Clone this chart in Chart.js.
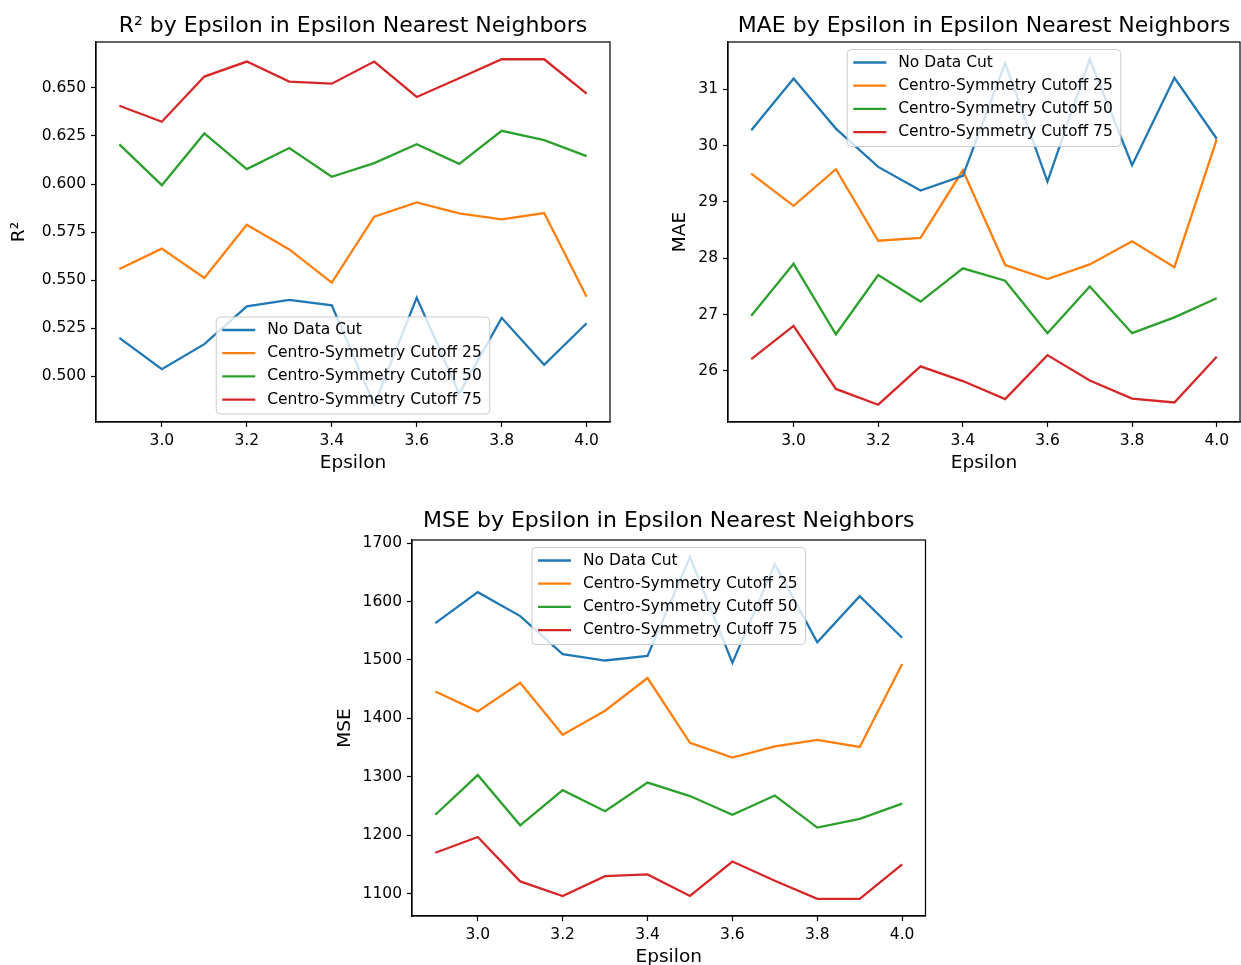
<!DOCTYPE html>
<html>
<head>
<meta charset="utf-8">
<title>Epsilon Nearest Neighbors metrics</title>
<script src="https://cdn.jsdelivr.net/npm/chart.js@4.4.0/dist/chart.umd.min.js"></script>
<style>
  html, body { margin: 0; padding: 0; background: #fff; }
  body { width: 1241px; height: 965px; position: relative; overflow: hidden; }
  canvas { position: absolute; }
</style>
</head>
<body>
<canvas id="r2Chart" width="620" height="480" style="left:0;top:0"></canvas>
<canvas id="maeChart" width="621" height="480" style="left:620px;top:0"></canvas>
<canvas id="mseChart" width="620" height="480" style="left:330px;top:490px"></canvas>
<script>
// Epsilon values swept in the nearest neighbour runs
const epsilonValues = [2.9, 3.0, 3.1, 3.2, 3.3, 3.4, 3.5, 3.6, 3.7, 3.8, 3.9, 4.0];
const epsilonTicks = [3.0, 3.2, 3.4, 3.6, 3.8, 4.0];

const seriesNames = [
    'No Data Cut',
    'Centro-Symmetry Cutoff 25',
    'Centro-Symmetry Cutoff 50',
    'Centro-Symmetry Cutoff 75'
];

// R^2
const r2NoCut = [0.5200, 0.5037, 0.5167, 0.5364, 0.5397, 0.5369, 0.4852, 0.5409, 0.4910, 0.5304, 0.5060, 0.5276];
const r2Cut25 = [0.5558, 0.5664, 0.5511, 0.5788, 0.5660, 0.5487, 0.5830, 0.5904, 0.5847, 0.5816, 0.5849, 0.5414];
const r2Cut50 = [0.6206, 0.5994, 0.6263, 0.6078, 0.6187, 0.6038, 0.6109, 0.6207, 0.6105, 0.6277, 0.6228, 0.6145];
const r2Cut75 = [0.6407, 0.6324, 0.6559, 0.6637, 0.6533, 0.6522, 0.6637, 0.6453, 0.6550, 0.6649, 0.6649, 0.6470];
const r2Ticks = [0.500, 0.525, 0.550, 0.575, 0.600, 0.625, 0.650];

// MAE
const maeNoCut = [30.27, 31.19, 30.30, 29.62, 29.20, 29.46, 31.46, 29.36, 31.53, 29.65, 31.20, 30.12];
const maeCut25 = [29.50, 28.93, 29.58, 28.31, 28.36, 29.56, 27.88, 27.63, 27.89, 28.30, 27.84, 30.11];
const maeCut50 = [26.98, 27.90, 26.65, 27.70, 27.23, 27.82, 27.60, 26.67, 27.50, 26.67, 26.95, 27.29];
const maeCut75 = [26.21, 26.80, 25.68, 25.40, 26.08, 25.82, 25.50, 26.28, 25.83, 25.51, 25.44, 26.25];
const maeTicks = [26, 27, 28, 29, 30, 31];

// MSE
const mseNoCut = [1563, 1616, 1575, 1510, 1499, 1507, 1676, 1495, 1664, 1530, 1609, 1538];
const mseCut25 = [1446, 1412, 1461, 1372, 1413, 1469, 1358, 1333, 1352, 1363, 1351, 1493];
const mseCut50 = [1235, 1303, 1217, 1277, 1241, 1290, 1267, 1235, 1268, 1213, 1228, 1254];
const mseCut75 = [1170, 1197, 1121, 1096, 1130, 1133, 1096, 1155, 1122, 1091, 1091, 1150];
const mseTicks = [1100, 1200, 1300, 1400, 1500, 1600, 1700];

const seriesColors = ['#1f77b4', '#ff7f0e', '#2ca02c', '#d62728'];
const FONT = '"DejaVu Sans", sans-serif';

// Box around the axes plus a framed legend drawn on top of the lines
const axesFrame = {
    id: 'axesFrame',
    afterDatasetsDraw(chart, args, opts) {
        const ctx = chart.ctx;
        const a = chart.chartArea;
        ctx.save();
        ctx.strokeStyle = '#000';
        ctx.lineWidth = 1.2;
        ctx.strokeRect(a.left, a.top, a.right - a.left, a.bottom - a.top);

        const fontSize = 15.5;
        ctx.font = fontSize + 'px ' + FONT;
        const labels = chart.data.datasets.map(d => d.label);
        const textW = Math.max(...labels.map(l => ctx.measureText(l).width));
        const boxW = 51 + textW + 8;
        const boxH = 97;
        const x = (a.left + a.right) / 2 - boxW / 2;
        const y = opts.loc === 'lower' ? a.bottom - 8 - boxH : a.top + 7.5;

        ctx.beginPath();
        ctx.roundRect(x, y, boxW, boxH, 4);
        ctx.fillStyle = 'rgba(255,255,255,0.8)';
        ctx.fill();
        ctx.strokeStyle = '#cccccc';
        ctx.lineWidth = 1;
        ctx.stroke();

        ctx.textBaseline = 'middle';
        ctx.textAlign = 'left';
        chart.data.datasets.forEach((ds, i) => {
            const cy = y + 13 + i * 23.2;
            ctx.beginPath();
            ctx.moveTo(x + 6, cy);
            ctx.lineTo(x + 39, cy);
            ctx.strokeStyle = ds.borderColor;
            ctx.lineWidth = 2.3;
            ctx.stroke();
            ctx.fillStyle = '#000';
            ctx.fillText(ds.label, x + 51, cy);
        });
        ctx.restore();
    }
};

function buildSeries(values) {
    return values.map((v, i) => ({ x: epsilonValues[i], y: v }));
}

function paddedRange(seriesList) {
    const all = seriesList.flat();
    const lo = Math.min(...all);
    const hi = Math.max(...all);
    const pad = (hi - lo) * 0.05;
    return { min: lo - pad, max: hi + pad };
}

function makeChart(canvasId, cfg) {
    const range = paddedRange(cfg.series);
    const xSpan = epsilonValues[epsilonValues.length - 1] - epsilonValues[0];
    return new Chart(document.getElementById(canvasId), {
        type: 'line',
        data: {
            datasets: cfg.series.map((vals, i) => ({
                label: seriesNames[i],
                data: buildSeries(vals),
                borderColor: seriesColors[i],
                backgroundColor: seriesColors[i],
                borderWidth: 2.3,
                pointRadius: 0,
                tension: 0,
                fill: false
            }))
        },
        options: {
            responsive: false,
            animation: false,
            devicePixelRatio: 1,
            layout: { padding: { left: 0, right: cfg.padRight, top: 0, bottom: 0 } },
            plugins: {
                legend: { display: false },
                tooltip: { enabled: false },
                title: {
                    display: true,
                    fullSize: false,
                    text: cfg.title,
                    color: '#000',
                    font: { family: FONT, size: 22, weight: 'normal', lineHeight: 1.2 },
                    padding: cfg.titlePad
                },
                axesFrame: { loc: cfg.legendLoc }
            },
            scales: {
                x: {
                    type: 'linear',
                    min: epsilonValues[0] - xSpan * 0.05,
                    max: epsilonValues[epsilonValues.length - 1] + xSpan * 0.05,
                    afterBuildTicks: scale => { scale.ticks = epsilonTicks.map(v => ({ value: v })); },
                    afterFit: scale => { scale.height = cfg.xHeight; },
                    grid: { drawOnChartArea: false, drawTicks: true, tickLength: 5, tickColor: '#000', tickWidth: 1.2 },
                    border: { display: true, color: '#000', width: 1.2 },
                    ticks: {
                        autoSkip: false,
                        maxRotation: 0,
                        padding: 5,
                        color: '#000',
                        font: { family: FONT, size: 15.5 },
                        callback: v => v.toFixed(1)
                    },
                    title: {
                        display: true,
                        text: 'Epsilon',
                        color: '#000',
                        font: { family: FONT, size: 18.5, lineHeight: 1 },
                        padding: { top: 0, bottom: cfg.xTitlePad }
                    }
                },
                y: {
                    type: 'linear',
                    min: range.min,
                    max: range.max,
                    afterBuildTicks: scale => { scale.ticks = cfg.ticks.map(v => ({ value: v })); },
                    afterFit: scale => { scale.width = cfg.yWidth; },
                    grid: { drawOnChartArea: false, drawTicks: true, tickLength: 5, tickColor: '#000', tickWidth: 1.2 },
                    border: { display: true, color: '#000', width: 1.2 },
                    ticks: {
                        autoSkip: false,
                        padding: 5,
                        color: '#000',
                        font: { family: FONT, size: 15.5 },
                        callback: cfg.tickFormat
                    },
                    title: {
                        display: true,
                        text: cfg.yLabel,
                        color: '#000',
                        font: { family: FONT, size: 18.5, lineHeight: 1 },
                        padding: { top: cfg.yTitlePad, bottom: 0 }
                    }
                }
            }
        },
        plugins: [axesFrame]
    });
}

document.addEventListener('DOMContentLoaded', function() {
    makeChart('r2Chart', {
        title: 'R\u00b2 by Epsilon in Epsilon Nearest Neighbors',
        yLabel: 'R\u00b2',
        series: [r2NoCut, r2Cut25, r2Cut50, r2Cut75],
        ticks: r2Ticks,
        tickFormat: v => v.toFixed(3),
        legendLoc: 'lower',
        padRight: 10,
        yWidth: 96,
        xHeight: 58,
        titlePad: { top: 13.3, bottom: 2.3 },
        xTitlePad: 8,
        yTitlePad: 9.5
    });

    makeChart('maeChart', {
        title: 'MAE by Epsilon in Epsilon Nearest Neighbors',
        yLabel: 'MAE',
        series: [maeNoCut, maeCut25, maeCut50, maeCut75],
        ticks: maeTicks,
        tickFormat: v => String(v),
        legendLoc: 'upper',
        padRight: 1,
        yWidth: 108,
        xHeight: 58,
        titlePad: { top: 13.3, bottom: 2.3 },
        xTitlePad: 8,
        yTitlePad: 51
    });

    makeChart('mseChart', {
        title: 'MSE by Epsilon in Epsilon Nearest Neighbors',
        yLabel: 'MSE',
        series: [mseNoCut, mseCut25, mseCut50, mseCut75],
        ticks: mseTicks,
        tickFormat: v => String(v),
        legendLoc: 'upper',
        padRight: 24.5,
        yWidth: 82,
        xHeight: 54,
        titlePad: { top: 17.8, bottom: 5.8 },
        xTitlePad: 4,
        yTitlePad: 6
    });
});
</script>
</body>
</html>
